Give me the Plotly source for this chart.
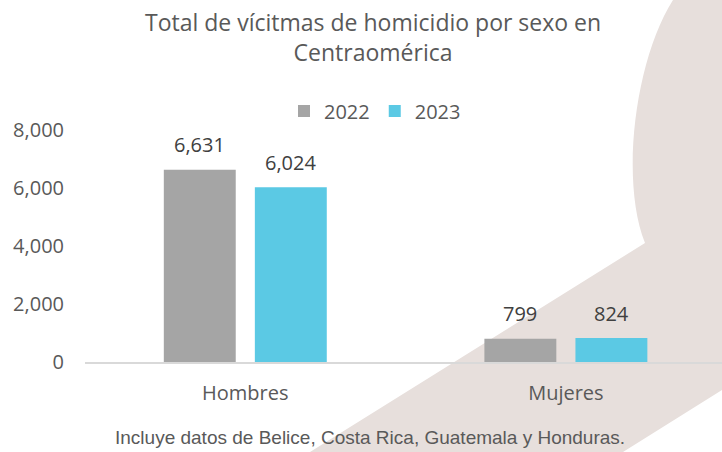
import plotly.graph_objects as go

# data
categories = ["Hombres", "Mujeres"]
years = ["2022", "2023"]
values_2022 = [6631, 799]
values_2023 = [6024, 824]
bar_colors = ["#A5A5A5", "#5BC9E4"]
y_ticks = [0, 2000, 4000, 6000, 8000]

W, H = 722, 452
L, R, T, B = 85, 0, 130, 90
PW, PH = W - L - R, H - T - B
X_RANGE = [-0.5, 1.487]
BARGAP = 0.432


def px(x):
    return (x - L) / PW


def py(y):
    return (H - B - y) / PH


fig = go.Figure()
for name, vals, col in zip(years, [values_2022, values_2023], bar_colors):
    fig.add_trace(
        go.Bar(
            x=categories,
            y=vals,
            name=name,
            marker=dict(color=col, line=dict(width=0)),
            cliponaxis=False,
        )
    )

# value labels, centred over each bar of the group
px_per_unit = PW / (X_RANGE[1] - X_RANGE[0])
slot = (1 - BARGAP) / 2 * px_per_unit
for i, vals in enumerate([values_2022, values_2023]):
    for cat, v in zip(categories, vals):
        fig.add_annotation(
            x=cat, y=v, xref="x", yref="y", text=f"{v:,}", showarrow=False,
            xshift=(i - 0.5) * slot, yshift=25, yanchor="middle",
            font=dict(size=20, color="#404040"),
        )

# decorative background shape
pts = [(673, 0), (635, 60), (620, 180), (645, 243), (310, 452), (623, 452), (722, 390), (722, 0)]
p = [(px(x), py(y)) for x, y in pts]
path = (
    f"M {p[0][0]},{p[0][1]} C {p[1][0]},{p[1][1]} {p[2][0]},{p[2][1]} {p[3][0]},{p[3][1]} "
    + " ".join(f"L {a},{b}" for a, b in p[4:])
    + " Z"
)
fig.add_shape(
    type="path", path=path, xref="paper", yref="paper",
    fillcolor="#E7DFDC", line=dict(width=0), layer="below",
)

fig.add_annotation(
    text="Total de vícitmas de homicidio por sexo en<br>Centraomérica",
    xref="paper", yref="paper", x=px(373), y=py(37),
    showarrow=False, font=dict(size=23, color="#595959"),
    xanchor="center", yanchor="middle",
)
fig.add_annotation(
    text="Incluye datos de Belice, Costa Rica, Guatemala y Honduras.",
    xref="paper", yref="paper", x=px(370), y=py(437),
    showarrow=False, font=dict(family="Liberation Sans, Arial", size=19, color="#595959"),
    xanchor="center", yanchor="middle",
)

fig.update_layout(
    width=W, height=H,
    margin=dict(l=L, r=R, t=T, b=B),
    paper_bgcolor="white",
    plot_bgcolor="rgba(0,0,0,0)",
    font=dict(family="Open Sans", size=20, color="#595959"),
    barmode="group",
    bargap=BARGAP,
    bargroupgap=0.21,
    showlegend=True,
    legend=dict(
        orientation="h", x=px(375), y=py(111), xanchor="center", yanchor="middle",
        font=dict(size=20, color="#595959"), bgcolor="rgba(0,0,0,0)",
        traceorder="normal",
    ),
)
fig.update_xaxes(
    range=X_RANGE, showline=True, linecolor="#D9D9D9", linewidth=1.5,
    showgrid=False, ticks="", ticklabelstandoff=12, tickfont=dict(size=20),
)
fig.update_yaxes(
    range=[0, 8000], tickvals=y_ticks, tickformat=",", showgrid=False,
    zeroline=False, showline=False, ticks="", ticklabelstandoff=20,
    tickfont=dict(size=20),
)

fig.write_html(
    "out.html",
    config={"displayModeBar": False},
    post_script="document.body.style.margin='0';",
)
